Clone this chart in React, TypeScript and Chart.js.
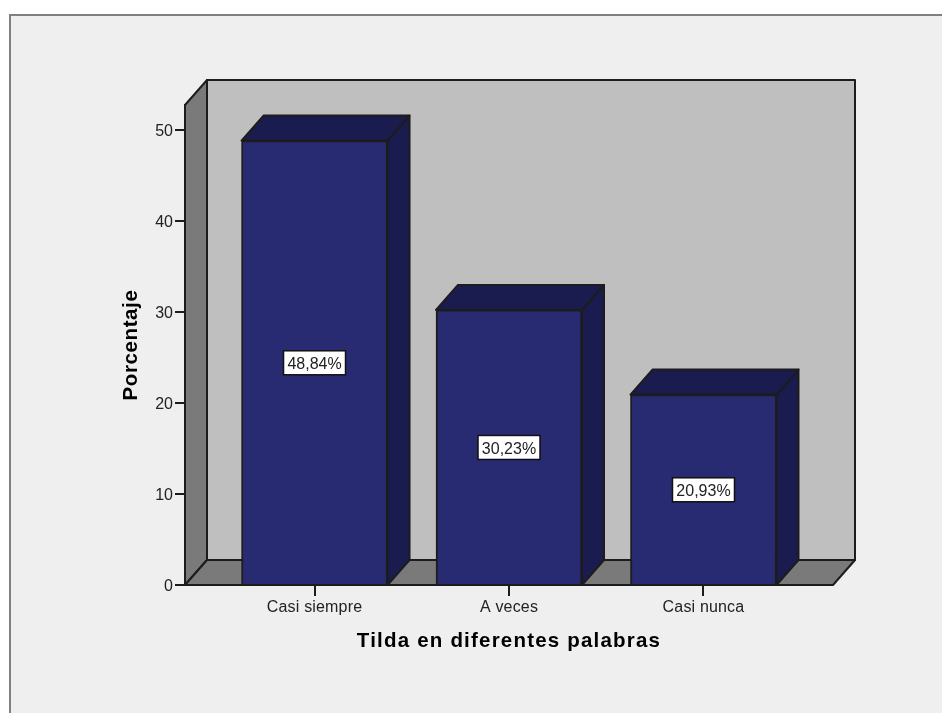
import React, { useEffect, useRef } from "react";
import { Chart, registerables } from "chart.js";

Chart.register(...registerables);

const categories = ["Casi siempre", "A veces", "Casi nunca"];
const percentages = [48.84, 30.23, 20.93];
const valueLabels = ["48,84%", "30,23%", "20,93%"];
const xTitle = "Tilda en diferentes palabras";
const yTitle = "Porcentaje";

const DX = 22;
const DY = -25;
const LINE = "#1c1c1c";
const FONT = "'Liberation Sans', Arial, sans-serif";

function poly(ctx: CanvasRenderingContext2D, pts: number[][], fill: string, lw = 2) {
  ctx.beginPath();
  pts.forEach((p, i) => (i ? ctx.lineTo(p[0], p[1]) : ctx.moveTo(p[0], p[1])));
  ctx.closePath();
  ctx.fillStyle = fill;
  ctx.fill();
  ctx.lineWidth = lw;
  ctx.strokeStyle = LINE;
  ctx.lineJoin = "round";
  ctx.stroke();
}

function tweakText(s: any, titleSpacing: string, labelSpacing: string, labelShift: number) {
  if (s.__tweaked) return;
  s.__tweaked = true;
  const drawTitle = s.drawTitle.bind(s);
  const drawLabels = s.drawLabels.bind(s);
  s.drawTitle = (...args: any[]) => {
    s.ctx.letterSpacing = titleSpacing;
    drawTitle(...args);
    s.ctx.letterSpacing = "0px";
  };
  s.drawLabels = (...args: any[]) => {
    s.ctx.save();
    s.ctx.letterSpacing = labelSpacing;
    s.ctx.translate(0, labelShift);
    drawLabels(...args);
    s.ctx.restore();
  };
}

const frame3d = {
  id: "frame3d",
  beforeDraw(chart: any) {
    const ctx = chart.ctx;
    ctx.save();
    ctx.fillStyle = "#ffffff";
    ctx.fillRect(0, 0, chart.width, chart.height);
    ctx.fillStyle = "#efefef";
    ctx.fillRect(9, 14, chart.width - 9, chart.height - 14);
    ctx.fillStyle = "#808080";
    ctx.fillRect(9, 14, chart.width - 9, 2);
    ctx.fillRect(9, 14, 2, chart.height - 14);
    ctx.restore();
  },
  beforeDatasetsDraw(chart: any) {
    const { ctx, chartArea: a } = chart;
    const { left: l, right: r, top: t, bottom: b } = a;
    ctx.save();
    poly(ctx, [[l + DX, t + DY], [r + DX, t + DY], [r + DX, b + DY], [l + DX, b + DY]], "#bfbfbf");
    poly(ctx, [[l, t], [l + DX, t + DY], [l + DX, b + DY], [l, b]], "#7a7a7a");
    poly(ctx, [[l, b], [l + DX, b + DY], [r + DX, b + DY], [r, b]], "#7a7a7a");
    const meta = chart.getDatasetMeta(0);
    meta.data.forEach((bar: any) => {
      const w = bar.width / 2;
      const x0 = bar.x - w;
      const x1 = bar.x + w;
      poly(ctx, [[x1, bar.y], [x1 + DX, bar.y + DY], [x1 + DX, b + DY], [x1, b]], "#1a1b4e");
      poly(ctx, [[x0, bar.y], [x0 + DX, bar.y + DY], [x1 + DX, bar.y + DY], [x1, bar.y]], "#1a1b4e");
    });
    ctx.restore();
  },
  afterDatasetsDraw(chart: any) {
    const { ctx, chartArea: a } = chart;
    ctx.save();
    ctx.strokeStyle = LINE;
    ctx.lineWidth = 2;
    ctx.beginPath();
    ctx.moveTo(a.left, a.bottom);
    ctx.lineTo(a.right, a.bottom);
    ctx.stroke();
    ctx.font = `16px ${FONT}`;
    ctx.textAlign = "center";
    ctx.textBaseline = "middle";
    const meta = chart.getDatasetMeta(0);
    meta.data.forEach((bar: any, i: number) => {
      const cy = (bar.y + a.bottom) / 2;
      const cx = bar.x;
      const w = 62;
      const h = 24;
      ctx.fillStyle = "#ffffff";
      ctx.fillRect(cx - w / 2, cy - h / 2, w, h);
      ctx.strokeStyle = "#111111";
      ctx.lineWidth = 1.5;
      ctx.strokeRect(cx - w / 2, cy - h / 2, w, h);
      ctx.fillStyle = "#222222";
      ctx.fillText(valueLabels[i], cx, cy + 2);
    });
    ctx.restore();
  },
};

export default function App() {
  const ref = useRef<HTMLCanvasElement>(null);
  useEffect(() => {
    const chart = new Chart(ref.current as HTMLCanvasElement, {
      type: "bar",
      data: {
        labels: categories,
        datasets: [
          {
            label: yTitle,
            data: percentages.map((y, x) => ({ x, y })) as any,
            backgroundColor: "#282a72",
            borderColor: LINE,
            borderWidth: 2,
            barThickness: 146,
          },
        ],
      },
      options: {
        animation: false,
        responsive: false,
        layout: { padding: { left: 121, right: 109, top: 105, bottom: 61 } },
        plugins: { legend: { display: false }, tooltip: { enabled: false }, title: { display: false } },
        scales: {
          x: {
            type: "linear",
            offset: false,
            min: -0.666,
            max: 2.666,
            afterBuildTicks: (s: any) => {
              s.ticks = categories.map((_, value) => ({ value }));
            },
            afterFit: (s: any) => {
              s.height = 67;
              tweakText(s, "1.2px", "0.17px", 0);
            },
            grid: { offset: false, drawOnChartArea: false, color: LINE, lineWidth: 2, tickLength: 11, drawTicks: true },
            border: { display: false },
            ticks: {
              autoSkip: false,
              maxRotation: 0,
              padding: 2,
              color: "#222222",
              font: { family: FONT, size: 16 },
              callback: (v: any) => categories[v],
            },
            title: {
              display: true,
              text: xTitle,
              color: "#000000",
              padding: 0,
              font: { family: FONT, size: 20.5, weight: "bold", lineHeight: 1.05 },
            },
          },
          y: {
            min: 0,
            max: 52.75,
            afterFit: (s: any) => {
              s.width = 64;
              tweakText(s, "0.6px", "0px", 2);
            },
            grid: { drawOnChartArea: false, color: LINE, lineWidth: 2, tickLength: 10 },
            border: { display: true, color: LINE, width: 2 },
            ticks: {
              stepSize: 10,
              includeBounds: false,
              padding: 2,
              color: "#222222",
              font: { family: FONT, size: 16 },
            },
            title: {
              display: true,
              text: yTitle,
              color: "#000000",
              padding: 0,
              font: { family: FONT, size: 20.5, weight: "bold", lineHeight: 1.05 },
            },
          },
        },
      } as any,
      plugins: [frame3d],
    });
    return () => chart.destroy();
  }, []);
  return (
    <canvas
      ref={ref}
      width={942}
      height={713}
      style={{ position: "absolute", left: 0, top: 0, width: 942, height: 713 }}
    />
  );
}
